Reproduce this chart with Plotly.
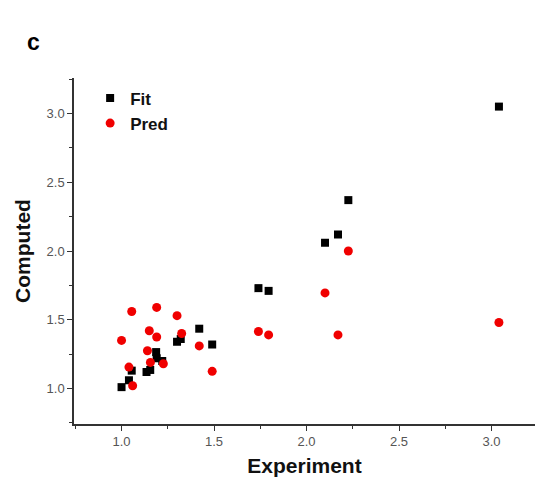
import plotly.graph_objects as go

# Fitted (training) set: experiment vs computed
fit_exp = [1.00, 1.04, 1.055, 1.135, 1.155, 1.187, 1.19, 1.22, 1.30, 1.32,
           1.42, 1.49, 1.74, 1.795, 2.10, 2.17, 2.226, 3.04]
fit_comp = [1.01, 1.06, 1.13, 1.12, 1.135, 1.265, 1.22, 1.20, 1.34, 1.36,
            1.435, 1.32, 1.73, 1.71, 2.06, 2.12, 2.37, 3.05]

# Predicted set: experiment vs computed
pred_exp = [1.00, 1.04, 1.055, 1.06, 1.14, 1.15, 1.156, 1.19, 1.19, 1.226,
            1.30, 1.325, 1.42, 1.49, 1.74, 1.795, 2.10, 2.17, 2.226, 3.04]
pred_comp = [1.35, 1.156, 1.56, 1.02, 1.275, 1.42, 1.19, 1.59, 1.375, 1.18,
             1.53, 1.40, 1.31, 1.125, 1.415, 1.39, 1.695, 1.39, 2.00, 1.48]

tick_vals = [1.0, 1.5, 2.0, 2.5, 3.0]
tick_text = ["1.0", "1.5", "2.0", "2.5", "3.0"]

FONT = "Arial, Liberation Sans, sans-serif"

fig = go.Figure()
fig.add_trace(go.Scatter(
    x=fit_exp, y=fit_comp, mode="markers", name="<b>Fit</b>",
    marker=dict(symbol="square", size=8, color="black"),
))
fig.add_trace(go.Scatter(
    x=pred_exp, y=pred_comp, mode="markers", name="<b>Pred</b>",
    marker=dict(symbol="circle", size=9, color="#f00000"),
))

axis_common = dict(
    showgrid=False, zeroline=False, showline=True,
    linecolor="#333333", linewidth=1.5,
    ticks="outside", ticklen=5, tickwidth=1.2, tickcolor="#333333",
    tickvals=tick_vals, ticktext=tick_text,
    tickfont=dict(family=FONT, size=13, color="#555555"),
    minor=dict(ticks="outside", ticklen=3, tickwidth=1, tickcolor="#333333",
               dtick=0.25, tick0=0.75, showgrid=False),
    mirror=False,
)

fig.update_xaxes(
    range=[0.743, 3.235],
    title=dict(text="<b>Experiment</b>", standoff=10,
               font=dict(family=FONT, size=21, color="#111111")),
    **axis_common,
)
fig.update_yaxes(
    range=[0.742, 3.258],
    title=dict(text="<b>Computed</b>", standoff=10,
               font=dict(family=FONT, size=21, color="#111111")),
    **axis_common,
)

plot_w = 539 - 74 - 4
plot_h = 485 - 78 - 61

fig.update_layout(
    width=539, height=485,
    margin=dict(l=74, r=4, t=78, b=61),
    paper_bgcolor="white", plot_bgcolor="white",
    showlegend=True,
    legend=dict(
        x=0.035, y=0.993, xanchor="left", yanchor="top",
        bgcolor="rgba(0,0,0,0)",
        font=dict(family=FONT, size=17, color="#111111"),
        itemsizing="trace",
    ),
    annotations=[dict(
        text="<b>c</b>", xref="paper", yref="paper",
        x=(33 - 74) / plot_w, y=1 + (78 - 42) / plot_h,
        xanchor="center", yanchor="middle", showarrow=False,
        font=dict(family=FONT, size=23, color="black"),
    )],
)

fig.write_html("out.html")
